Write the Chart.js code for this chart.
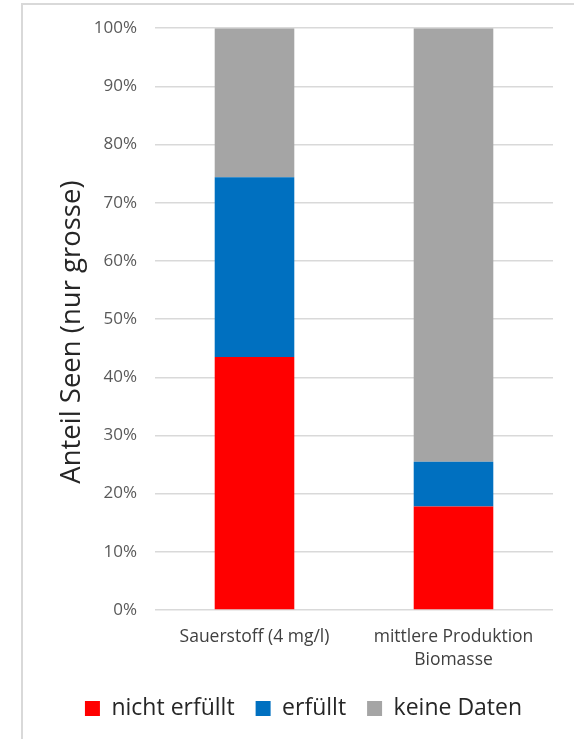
<!DOCTYPE html>
<html>
<head>
<meta charset="utf-8">
<script src="https://cdn.jsdelivr.net/npm/chart.js@4"></script>
<style>
  html, body { margin: 0; padding: 0; background: #fff; }
  #wrap { position: relative; width: 574px; height: 739px; }
  #frame { position: absolute; left: 21px; top: 3px; right: 0; bottom: 0;
           border-left: 2px solid #d9d9d9; border-top: 2px solid #d9d9d9; pointer-events: none; }
  canvas { display: block; }
</style>
</head>
<body>
<div id="wrap">
  <canvas id="chart" width="574" height="739"></canvas>
  <div id="frame"></div>
</div>
<script>
// Categories (criteria) and share of lakes per assessment class, in percent
const categories = [['Sauerstoff (4 mg/l)'], ['mittlere Produktion', 'Biomasse']];
const nichtErfuellt = [43.5, 17.8];
const erfuellt = [30.9, 7.7];
const keineDaten = [25.6, 74.5];
const yTicks = [0, 10, 20, 30, 40, 50, 60, 70, 80, 90, 100];
const yTitle = 'Anteil Seen (nur grosse)';

const FONT = '"Open Sans", Lato, sans-serif';

// Rotated y-axis title, centred slightly below the middle of the plot area
const yTitlePlugin = {
  id: 'yTitle',
  afterDraw(chart) {
    const ctx = chart.ctx;
    const area = chart.chartArea;
    ctx.save();
    ctx.translate(72, (area.top + area.bottom) / 2 + 13);
    ctx.rotate(-Math.PI / 2);
    ctx.font = '27.5px ' + FONT;
    ctx.fillStyle = '#262626';
    ctx.textAlign = 'center';
    ctx.textBaseline = 'middle';
    ctx.fillText(yTitle, 0, 0);
    ctx.restore();
  }
};

new Chart(document.getElementById('chart'), {
  type: 'bar',
  data: {
    labels: categories,
    datasets: [
      { label: 'nicht erfüllt', data: nichtErfuellt, backgroundColor: '#ff0000' },
      { label: 'erfüllt', data: erfuellt, backgroundColor: '#0070c0' },
      { label: 'keine Daten', data: keineDaten, backgroundColor: '#a5a5a5' }
    ]
  },
  options: {
    responsive: false,
    animation: false,
    layout: { padding: { top: 27, right: 21, left: 54, bottom: 9 } },
    datasets: { bar: { categoryPercentage: 1, barPercentage: 0.4 } },
    plugins: {
      tooltip: { enabled: false },
      legend: {
        position: 'bottom',
        labels: {
          font: { family: FONT, size: 23 },
          color: '#262626',
          boxWidth: 15,
          boxHeight: 15,
          padding: 21
        }
      }
    },
    scales: {
      x: {
        stacked: true,
        grid: { display: false },
        border: { display: false },
        ticks: {
          font: { family: FONT, size: 17.5, lineHeight: 1.3 },
          color: '#404040',
          padding: 8,
          maxRotation: 0
        },
        afterFit(scale) { scale.height = 66; }
      },
      y: {
        stacked: true,
        min: 0,
        max: 100,
        afterBuildTicks(scale) { scale.ticks = yTicks.map(v => ({ value: v })); },
        grid: { color: '#d9d9d9', lineWidth: 1.5, drawTicks: false },
        border: { display: false },
        ticks: {
          font: { family: FONT, size: 17 },
          color: '#595959',
          padding: 18,
          callback: v => v + '%'
        },
        afterFit(scale) { scale.width = 101; }
      }
    }
  },
  plugins: [yTitlePlugin]
});
</script>
</body>
</html>
